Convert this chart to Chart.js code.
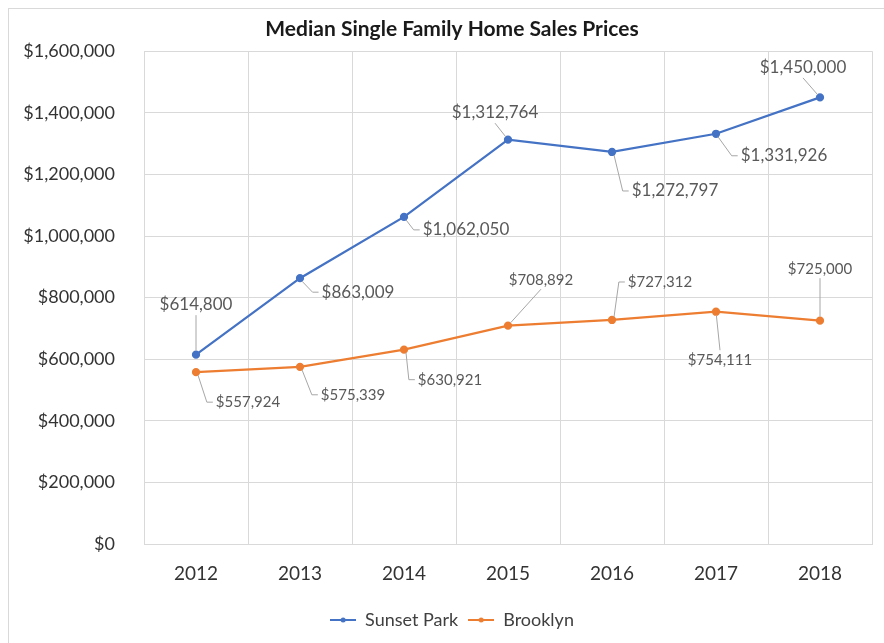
<!DOCTYPE html>
<html>
<head>
<meta charset="utf-8">
<script src="https://cdn.jsdelivr.net/npm/chart.js@4"></script>
<style>
  html, body { margin: 0; padding: 0; background: #fff; }
  #wrap { position: relative; width: 884px; height: 643px; }
</style>
</head>
<body>
<div id="wrap"><canvas id="chart" width="884" height="643"></canvas></div>
<script>
// data
var years = ['2012', '2013', '2014', '2015', '2016', '2017', '2018'];
var sunsetPark = [614800, 863009, 1062050, 1312764, 1272797, 1331926, 1450000];
var brooklyn = [557924, 575339, 630921, 708892, 727312, 754111, 725000];
var yTicks = [0, 200000, 400000, 600000, 800000, 1000000, 1200000, 1400000, 1600000];

// where each data label sits relative to its point: [dx, dy, leader type]
var sunsetLabelPos = [[0, -50, 'v'], [58, 14, 's'], [62, 13, 's'], [-13, -27, 'v'], [63, 39, 's'], [68, 22, 's'], [-17, -30, 'v']];
var brooklynLabelPos = [[52, 30, 's'], [53, 28, 's'], [46, 30, 's'], [33, -46, 'v'], [48, -38, 's'], [4, 48, 'v'], [0, -52, 'v']];

var FONT = 'Lato, "Open Sans", sans-serif';
var BLUE = '#4472C4';
var ORANGE = '#ED7D31';

function money(v) {
    return '$' + Number(v).toLocaleString('en-US');
}

function legendMarker(color) {
    var c = document.createElement('canvas');
    c.width = 26;
    c.height = 10;
    var g = c.getContext('2d');
    g.strokeStyle = color;
    g.lineWidth = 2;
    g.beginPath();
    g.moveTo(0, 5);
    g.lineTo(26, 5);
    g.stroke();
    g.fillStyle = color;
    g.beginPath();
    g.arc(13, 5, 2.5, 0, Math.PI * 2);
    g.fill();
    return c;
}
var markers = [legendMarker(BLUE), legendMarker(ORANGE)];

var framePlugin = {
    id: 'frame',
    afterLayout: function(chart) {
        // let the y tick labels run past the left padding without being clipped
        chart.scales.y.left = 0;
    },
    beforeDraw: function(chart) {
        var ctx = chart.ctx;
        ctx.save();
        ctx.strokeStyle = '#d9d9d9';
        ctx.lineWidth = 1;
        ctx.strokeRect(8.5, 8.5, 950, 700);
        ctx.restore();
    }
};

var labelPlugin = {
    id: 'pointLabels',
    afterDatasetsDraw: function(chart) {
        var ctx = chart.ctx;
        chart.data.datasets.forEach(function(ds, di) {
            var meta = chart.getDatasetMeta(di);
            var size = ds.labelSize;
            ctx.save();
            ctx.font = size + 'px ' + FONT;
            ctx.textAlign = 'center';
            ctx.textBaseline = 'middle';
            meta.data.forEach(function(pt, i) {
                var pos = ds.labelPos[i];
                var text = money(ds.data[i]);
                var cx = pt.x + pos[0], cy = pt.y + pos[1];
                var w = ctx.measureText(text).width;
                var h = size;
                // leader line
                ctx.strokeStyle = '#a6a6a6';
                ctx.lineWidth = 1;
                ctx.beginPath();
                if (pos[2] === 's') {
                    var sgn = pos[0] > 0 ? 1 : -1;
                    var ax = cx - sgn * (w / 2 + 3);
                    ctx.moveTo(pt.x + sgn * 2, pt.y + (cy > pt.y ? 3 : -3));
                    ctx.lineTo(ax - sgn * 6, cy);
                    ctx.lineTo(ax, cy);
                } else {
                    var ay = pos[1] < 0 ? cy + h / 2 + 2 : cy - h / 2 - 2;
                    var d = Math.hypot(cx - pt.x, ay - pt.y);
                    if (d > 14) {
                        var k = 4 / d;
                        ctx.moveTo(pt.x + (cx - pt.x) * k, pt.y + (ay - pt.y) * k);
                        ctx.lineTo(cx, ay);
                    }
                }
                ctx.stroke();
                ctx.fillStyle = '#595959';
                ctx.fillText(text, cx, cy);
            });
            ctx.restore();
        });
    }
};

new Chart(document.getElementById('chart'), {
    type: 'line',
    data: {
        labels: years,
        datasets: [{
            label: 'Sunset Park',
            data: sunsetPark,
            borderColor: BLUE,
            backgroundColor: BLUE,
            borderWidth: 2.25,
            pointRadius: 3,
            pointHoverRadius: 3,
            tension: 0,
            labelPos: sunsetLabelPos,
            labelSize: 17
        }, {
            label: 'Brooklyn',
            data: brooklyn,
            borderColor: ORANGE,
            backgroundColor: ORANGE,
            borderWidth: 2.25,
            pointRadius: 3,
            pointHoverRadius: 3,
            tension: 0,
            labelPos: brooklynLabelPos,
            labelSize: 15
        }]
    },
    options: {
        responsive: false,
        animation: false,
        layout: { padding: { left: 32, right: 12, top: 0, bottom: 4 } },
        plugins: {
            title: {
                display: true,
                text: 'Median Single Family Home Sales Prices',
                color: '#1a1a1a',
                font: { family: FONT, size: 21, weight: 'bold' },
                padding: { top: 17, bottom: 9 }
            },
            legend: {
                position: 'bottom',
                labels: {
                    usePointStyle: true,
                    pointStyleWidth: 26,
                    boxHeight: 10,
                    padding: 10,
                    color: '#404040',
                    font: { family: FONT, size: 18 },
                    generateLabels: function(chart) {
                        var items = Chart.defaults.plugins.legend.labels.generateLabels(chart);
                        items.forEach(function(it) { it.pointStyle = markers[it.datasetIndex]; });
                        return items;
                    }
                }
            },
            tooltip: { enabled: false }
        },
        scales: {
            x: {
                offset: true,
                grid: { color: '#d9d9d9', offset: true, drawTicks: false },
                border: { color: '#d9d9d9' },
                ticks: { color: '#333', padding: 18, font: { family: FONT, size: 19 } },
                afterFit: function(scale) { scale.height = 57; }
            },
            y: {
                min: 0,
                max: 1600000,
                afterBuildTicks: function(scale) {
                    scale.ticks = yTicks.map(function(v) { return { value: v }; });
                },
                grid: { color: '#d9d9d9', drawTicks: false },
                border: { display: false },
                ticks: {
                    color: '#333',
                    padding: 29,
                    font: { family: FONT, size: 18 },
                    callback: function(v) { return money(v); }
                },
                afterFit: function(scale) { scale.width = 112; }
            }
        }
    },
    plugins: [framePlugin, labelPlugin]
});
</script>
</body>
</html>
